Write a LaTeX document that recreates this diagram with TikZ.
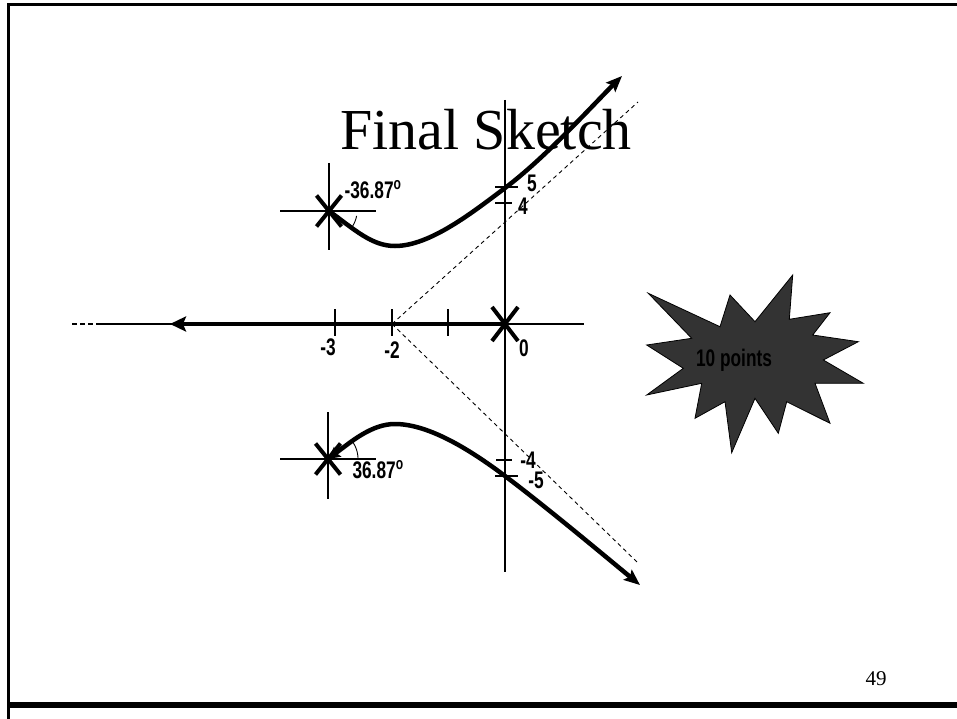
\documentclass[tikz,border=0pt]{standalone}
\usepackage{fontspec}
\setmainfont{Liberation Serif}
\newfontfamily\labfont{Liberation Sans}
\usetikzlibrary{arrows.meta,shapes.misc}
\definecolor{stardark}{HTML}{333333}
\newcommand{\nlab}[1]{\scalebox{0.72}[1]{\labfont\bfseries\fontsize{24}{24}\selectfont #1}}
\begin{document}
\begin{tikzpicture}[x=1pt,y=-1pt,
  frame/.style={line width=3pt},
  axis/.style={line width=1.8pt},
  tick/.style={line width=1.8pt},
  locus/.style={line width=4.5pt},
  thin/.style={line width=0.9pt},
  asym/.style={line width=0.9pt, dash pattern=on 4pt off 3.5pt},
  xmark/.style={draw, cross out, line width=4pt, inner sep=0pt, minimum width=21pt, minimum height=27pt},
  lab/.style={inner sep=0pt, text=black},
  bigtip/.tip={Stealth[length=16pt,width=15pt,inset=3pt]},
  endtip/.tip={Stealth[length=16pt,width=13pt,inset=3pt]},
  smalltip/.tip={Stealth[length=12pt,width=12pt,inset=2pt]}]
\useasboundingbox (0,0) rectangle (957,719);

% frame
\draw[frame] (7,5) -- (957,5);
\draw[frame] (8,4) -- (8,719);
\draw[line width=6pt] (7,705) -- (957,705);

% title and page number
\node[lab, anchor=base, font=\fontsize{58}{58}\selectfont] (title) at (486,150) {Final Sketch};
\node[lab, anchor=base, font=\fontsize{21}{21}\selectfont] (page) at (876,685) {49};

% key points
\coordinate (O) at (505,324);
\coordinate (S2) at (392,324);
\coordinate (P1) at (329,211);
\coordinate (P2) at (328,459);
\coordinate (L) at (170,324);

% axes
\draw[axis] (96,324) -- (584,324);
\draw[axis, dash pattern=on 5pt off 3pt] (72,324) -- (94,324);
\draw[axis] (505,100) -- (505,572);

% real axis ticks
\draw[tick] (335,309) -- (335,336);
\draw[tick] (392,309) -- (392,336);
\draw[tick] (448,309) -- (448,336);

% imaginary axis ticks
\draw[tick] (495,187) -- (518,187);
\draw[tick] (495,203) -- (512,203);
\draw[tick] (496,460) -- (512,460);
\draw[tick] (495,476) -- (518,476);

% asymptotes
\draw[asym] (S2) -- (638,102);
\draw[asym] (S2) -- (637,562);

% pole axes
\draw[axis] (329,163) -- (329,250);
\draw[axis] (280,211) -- (376,211);
\draw[axis] (328,412) -- (328,499);
\draw[axis] (280,459) -- (376,459);

% real-axis locus
\draw[locus, -{bigtip}] (O) -- (L);

% departure tangents and angle arcs
\draw[thin] (P1) -- (366,238);
\draw[thin] plot[domain=10:36.87, samples=10] ({329+28*cos(\x)},{211+28*sin(\x)});
\draw[thin] (P2) -- (358,437);
\draw[thin] plot[domain=0:36.87, samples=12] ({328+30*cos(\x)},{459-30*sin(\x)});

% complex loci
\draw[locus, -{endtip}] (P1) .. controls (355,230) and (372,246) .. (395,246)
  .. controls (430,246) and (473,212) .. (505,188)
  .. controls (545,158) and (592,106) .. (622,76);
\draw[locus, {smalltip}-{endtip}] (P2) .. controls (352,441) and (372,424) .. (395,424)
  .. controls (430,424) and (473,452) .. (505,476)
  .. controls (545,506) and (600,552) .. (640,585);

% pole / zero crosses
\node[xmark] (x1) at (P1) {};
\node[xmark] (x2) at (P2) {};
\node[xmark, minimum width=22pt, minimum height=30pt] (x0) at (O) {};

% labels
\node[lab] (l3) at (328,347) {\nlab{-3}};
\node[lab] (l2) at (392,350) {\nlab{-2}};
\node[lab] (l0) at (524,348) {\nlab{0}};
\node[lab] (l5) at (532,183) {\nlab{5}};
\node[lab] (l4) at (523,206) {\nlab{4}};
\node[lab] (lm4) at (528,460) {\nlab{-4}};
\node[lab] (lm5) at (536,480) {\nlab{-5}};
\node[lab] (a1) at (373,190) {\nlab{-36.87\textsuperscript{o}}};
\node[lab] (a2) at (378,470) {\nlab{36.87\textsuperscript{o}}};

% star
\draw[fill=stardark, line width=0.8pt] (648.3,293.3) -- (720,326.7) -- (730,295) -- (755,321.7)
  -- (792.7,275) -- (789.3,319.3) -- (830,312.7) -- (812.7,335) -- (858.3,341.7)
  -- (823.3,360) -- (863.3,383.3) -- (815,383.3) -- (830,423.3) -- (786.7,401.7)
  -- (778.3,433.3) -- (755,398.3) -- (731.7,452.7) -- (725,401.7) -- (695,418.3)
  -- (701.7,383.3) -- (646.7,395) -- (683.3,368.3) -- (646.7,345) -- (691.7,338.3) -- cycle;
\node[lab] (pts) at (734,360) {\nlab{10 points}};
\end{tikzpicture}
\end{document}
